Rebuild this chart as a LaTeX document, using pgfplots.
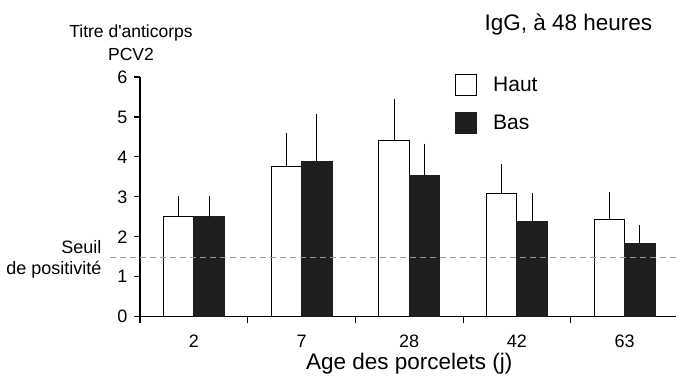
\documentclass[border=0pt]{standalone}
\usepackage{fontspec}
\setmainfont{Liberation Sans}
\usepackage{pgfplots}
\pgfplotsset{compat=1.18}
\definecolor{barblack}{HTML}{1E1E20}
\definecolor{seuilgray}{HTML}{999999}
\begin{document}
\begin{tikzpicture}
\useasboundingbox (-140bp,-60.3bp) rectangle (536bp,316.7bp);
\begin{axis}[
  scale only axis,
  width=538.5bp, height=239.7bp,
  xmin=-0.5, xmax=4.5, ymin=0, ymax=6,
  axis x line=bottom, axis y line=left,
  axis line style={-, line width=1.1bp},
  clip=false,
  /pgf/number format/assume math mode=true,
  ytick={0,1,...,6},
  tick align=outside,
  major tick length=6bp,
  tick style={line width=1.1bp, black},
  xtick={-0.5,0.5,1.5,2.5,3.5},
  xticklabels={},
  extra x ticks={0,1,2,3,4},
  extra x tick labels={2,7,28,42,63},
  extra x tick style={major tick length=0pt, xticklabel style={yshift=-15bp}},
  ticklabel style={font=\fontsize{18bp}{21bp}\selectfont},
  yticklabel style={xshift=-3bp},
  xlabel={Age des porcelets (j)},
  xlabel style={at={(rel axis cs:0.5,0)}, anchor=base, yshift=-53bp, font=\fontsize{22.5bp}{26bp}\selectfont},
  ylabel={Titre d\textquotesingle anticorps\\PCV2},
  ylabel style={rotate=-90, align=center, at={(rel axis cs:0,1)}, anchor=south, xshift=-9bp, yshift=13bp, font=\fontsize{17.5bp}{22.5bp}\selectfont},
  title={IgG, à 48 heures},
  title style={at={(rel axis cs:0,0)}, anchor=base, xshift=428.3bp, yshift=280bp, font=\fontsize{22.5bp}{26bp}\selectfont},
  ybar=0pt, bar width=0.283,
  legend style={at={(axis cs:2.425,6.07)}, anchor=north west, draw=none, fill=none, inner sep=0pt,
    font=\fontsize{21bp}{24bp}\selectfont, row sep=16bp,
    nodes={inner sep=0bp}},
  legend cell align=left,
]
\addplot+[draw=black, fill=white, line width=1bp,
  legend image code/.code={\draw[black, fill=white, line width=1bp] (0bp,-10.5bp) rectangle (21bp,10.5bp);\path (37bp,0bp);},
  error bars/.cd, y dir=plus, y explicit, error mark=none,
  error bar style={line width=1bp, black}]
  coordinates {(0,2.52) +- (0,0.50) (1,3.75) +- (0,0.85) (2,4.42) +- (0,1.04) (3,3.08) +- (0,0.75) (4,2.44) +- (0,0.68)};
\addlegendentry{Haut}
\addplot+[draw=barblack, fill=barblack, line width=1bp,
  legend image code/.code={\draw[barblack, fill=barblack, line width=1bp] (0bp,-10.5bp) rectangle (21bp,10.5bp);\path (37bp,0bp);},
  error bars/.cd, y dir=plus, y explicit, error mark=none,
  error bar style={line width=1bp, black}]
  coordinates {(0,2.50) +- (0,0.52) (1,3.88) +- (0,1.19) (2,3.54) +- (0,0.79) (3,2.39) +- (0,0.71) (4,1.83) +- (0,0.46)};
\addlegendentry{Bas}
\draw[seuilgray, line width=1bp, dash pattern=on 6bp off 4bp] (axis cs:-0.779,1.475) -- (axis cs:4.5,1.475);
\end{axis}
\node[anchor=base east, font=\fontsize{18bp}{21bp}\selectfont] at (-35bp,62.7bp) {Seuil};
\node[anchor=base east, font=\fontsize{18bp}{21bp}\selectfont] at (-35bp,41.7bp) {de positivité};
\end{tikzpicture}
\end{document}
